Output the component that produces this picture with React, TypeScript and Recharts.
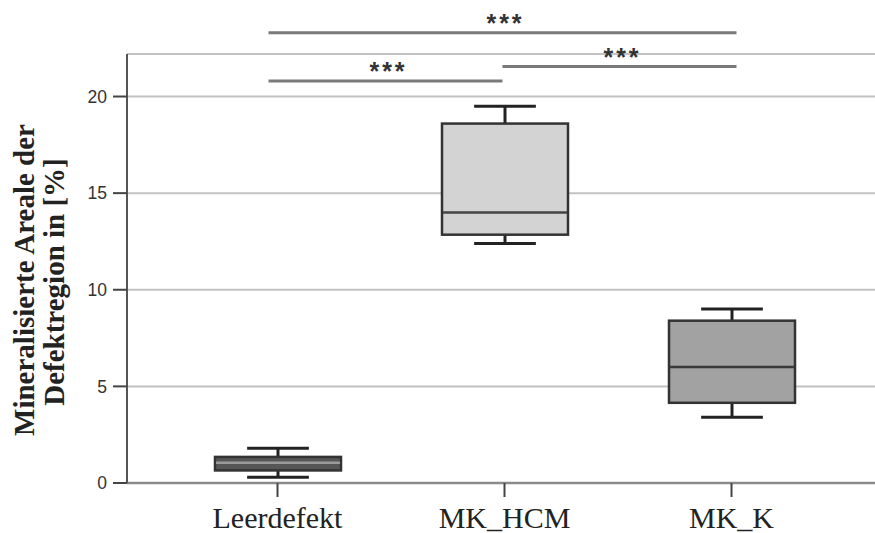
import React from 'react';
import { ComposedChart, Bar, XAxis, YAxis, CartesianGrid, ReferenceLine } from 'recharts';

// ---- data ----
const categories = ['Leerdefekt', 'MK_HCM', 'MK_K'];
const whiskerLow = [0.3, 12.4, 3.4];
const q1 = [0.65, 12.85, 4.15];
const median = [1.05, 14.0, 6.0];
const q3 = [1.35, 18.6, 8.4];
const whiskerHigh = [1.8, 19.5, 9.0];
const yTicks = [0, 5, 10, 15, 20];
const yMax = 22.2;

// significance bars
const sigFrom = ['Leerdefekt', 'Leerdefekt', 'MK_HCM'];
const sigTo = ['MK_K', 'MK_HCM', 'MK_K'];
const sigLevel = [23.3, 20.8, 21.55];
const sigLabel = ['***', '***', '***'];

const data = categories.map((name, i) => ({
  name,
  box: [q1[i], q3[i]],
  lo: whiskerLow[i],
  q1: q1[i],
  med: median[i],
  q3: q3[i],
  hi: whiskerHigh[i],
}));

// ---- styles ----
const boxFills = ['#565656', '#d3d3d3', '#a2a2a2'];
const medianStrokes = ['#9a9a9a', '#444444', '#3a3a3a'];

const BoxShape = (props: any) => {
  const { x, y, width, height, payload, index } = props;
  const top = Math.min(y, y + height);
  const h = Math.abs(height);
  const ppu = h / (payload.q3 - payload.q1);
  const yOf = (v: number) => top + (payload.q3 - v) * ppu;
  const cx = x + width / 2;
  const capHalf = width * 0.245;
  const wStroke = '#222';
  return (
    <g>
      <line x1={cx} x2={cx} y1={yOf(payload.hi)} y2={top} stroke={wStroke} strokeWidth={3} />
      <line x1={cx} x2={cx} y1={top + h} y2={yOf(payload.lo)} stroke={wStroke} strokeWidth={3} />
      <line x1={cx - capHalf} x2={cx + capHalf} y1={yOf(payload.hi)} y2={yOf(payload.hi)} stroke={wStroke} strokeWidth={3} />
      <line x1={cx - capHalf} x2={cx + capHalf} y1={yOf(payload.lo)} y2={yOf(payload.lo)} stroke={wStroke} strokeWidth={3} />
      <rect x={x} y={top} width={width} height={h} fill={boxFills[index]} stroke="#333" strokeWidth={2.5} />
      <line x1={x + 1} x2={x + width - 1} y1={yOf(payload.med)} y2={yOf(payload.med)} stroke={medianStrokes[index]} strokeWidth={2.5} />
    </g>
  );
};

const sigExt = (name: string) => {
  if (name === 'Leerdefekt') return -9;
  if (name === 'MK_K') return 5;
  return -2;
};

const makeSigShape = (i: number) => (p: any) => {
  const x1 = Math.min(p.x1, p.x2) + sigExt(sigFrom[i]);
  const x2 = Math.max(p.x1, p.x2) + sigExt(sigTo[i]);
  const yy = p.y1;
  return (
    <g>
      <line x1={x1} x2={x2} y1={yy} y2={yy} stroke="#7a7a7a" strokeWidth={3} />
      <text
        x={(x1 + x2) / 2 + 3}
        y={yy - 1}
        textAnchor="middle"
        fontFamily="Liberation Sans, Arial, sans-serif"
        fontWeight="bold"
        fontSize={25}
        letterSpacing={3}
        fill="#333"
      >
        {sigLabel[i]}
      </text>
    </g>
  );
};

const YTitle = () => (
  <g>
    <text
      x={34}
      y={280}
      transform="rotate(-90 34 280)"
      textAnchor="middle"
      fontFamily="Liberation Serif, Times New Roman, serif"
      fontWeight="bold"
      fontSize={29}
      fill="#222"
    >
      Mineralisierte Areale der
    </text>
    <text
      x={64}
      y={282}
      transform="rotate(-90 64 282)"
      textAnchor="middle"
      fontFamily="Liberation Serif, Times New Roman, serif"
      fontWeight="bold"
      fontSize={29}
      fill="#222"
    >
      Defektregion in [%]
    </text>
  </g>
);

export default function App() {
  return (
    <div style={{ position: 'absolute', left: 0, top: 0, width: 875, height: 533, background: '#fff' }}>
      <ComposedChart
        width={875}
        height={533}
        data={data}
        margin={{ top: 54, right: 0, bottom: 0, left: 0 }}
      >
        <CartesianGrid vertical={false} stroke="#c2c2c2" strokeWidth={2} />
        <XAxis
          dataKey="name"
          height={50}
          padding={{ left: 37, right: 30 }}
          axisLine={{ stroke: '#8a8a8a', strokeWidth: 2.5 }}
          tickLine={{ stroke: '#444', strokeWidth: 2 }}
          tickSize={14}
          tickMargin={10}
          tick={{ fontFamily: 'Liberation Serif, Times New Roman, serif', fontSize: 30, fill: '#222' }}
          interval={0}
        />
        <YAxis
          width={127}
          domain={[0, yMax]}
          ticks={yTicks}
          allowDataOverflow
          axisLine={{ stroke: '#555', strokeWidth: 2 }}
          tickLine={{ stroke: '#444', strokeWidth: 2 }}
          tickSize={14}
          tickMargin={6}
          tick={{ fontFamily: 'Liberation Sans, Arial, sans-serif', fontSize: 17.5, fill: '#333' }}
          label={{ content: () => <YTitle /> }}
        />
        <Bar dataKey="box" barSize={126} shape={<BoxShape />} isAnimationActive={false} />
        {sigLevel.map((lvl, i) => (
          <ReferenceLine
            key={i}
            segment={[
              { x: sigFrom[i], y: lvl },
              { x: sigTo[i], y: lvl },
            ]}
            ifOverflow="visible"
            shape={makeSigShape(i)}
          />
        ))}
      </ComposedChart>
    </div>
  );
}
